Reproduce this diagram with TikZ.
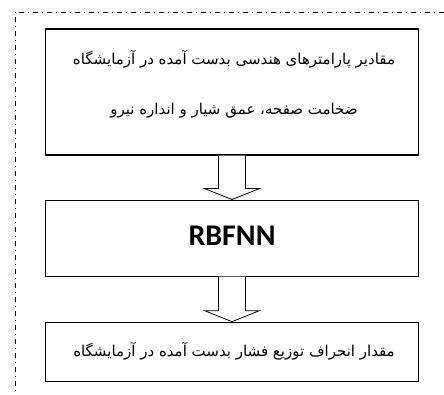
\documentclass[tikz,border=0pt]{standalone}
\usepackage{fontspec}
\TeXXeTstate=1
\newfontfamily\farsifont[Script=Arabic]{DejaVu Sans}
\newfontfamily\netfont{Carlito}
\usetikzlibrary{calc,positioning}

\tikzset{
  box/.style={draw, line width=1.1pt, minimum width=373pt, inner sep=0pt},
  fatarrow/.style={draw, line width=0.8pt, fill=white},
  frameline/.style={line width=0.7pt, dash pattern=on 5pt off 4pt on 1pt off 4pt},
  farsi/.style={font=\farsifont\fontsize{15}{18}\selectfont},
}

% hollow arrow from the bottom of #1 to the top of #2
\newcommand{\hollowarrow}[2]{%
  \draw[fatarrow] ($(#1.south)+(-13.5,0)$) -- ($(#2.north)+(-13.5,-11)$)
    -- ($(#2.north)+(-27.5,-11)$) -- (#2.north) -- ($(#2.north)+(27.5,-11)$)
    -- ($(#2.north)+(13.5,-11)$) -- ($(#1.south)+(13.5,0)$);
}

\begin{document}
\begin{tikzpicture}[x=1pt, y=-1pt]
\useasboundingbox (0,0) rectangle (444,394);

% frame
\draw[frameline] (444,12) -- (15,12) -- (15,394);

% boxes
\node[box, minimum height=126pt] (input) at (232,92) {};
\node[box, minimum height=76pt, below=44pt of input] (net)
  {\raisebox{5pt}{\netfont\bfseries\fontsize{30}{32}\selectfont RBFNN}};
\node[box, minimum height=59pt, below=45pt of net] (output) {};

% texts
\node[farsi] (in1) at ($(input.north)+(2,31)$) {\beginR مقادیر پارامترهای هندسی بدست آمده در آزمایشگاه\endR};
\node[farsi] (in2) at ($(input.north)+(2,82)$) {\beginR ضخامت صفحه، عمق شیار و انداره نیرو\endR};
\node[farsi] (out) at ($(output.center)+(2,0)$) {\beginR مقدار انحراف توزیع فشار بدست آمده در آزمایشگاه\endR};

% arrows
\hollowarrow{input}{net}
\hollowarrow{net}{output}
\end{tikzpicture}
\end{document}
